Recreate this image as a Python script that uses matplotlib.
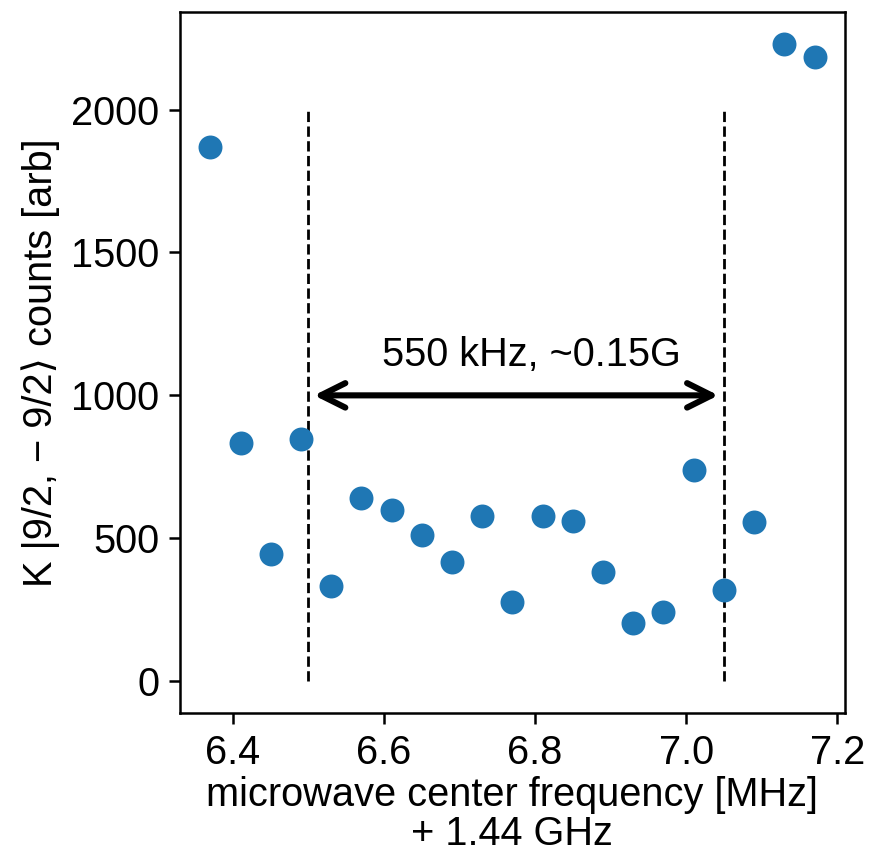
import matplotlib
matplotlib.use("Agg")
import matplotlib.pyplot as plt

plt.rcParams["font.family"] = ["Liberation Sans", "DejaVu Sans"]
plt.rcParams["font.size"] = 14.3

freq = [6.37, 6.41, 6.45, 6.49, 6.53, 6.57, 6.61, 6.65, 6.69, 6.73, 6.77,
        6.81, 6.85, 6.89, 6.93, 6.97, 7.01, 7.05, 7.09, 7.13, 7.17]
counts = [1870, 835, 445, 848, 333, 640, 598, 512, 417, 577, 276,
          578, 560, 382, 203, 242, 738, 318, 558, 2230, 2185]

lo, hi = 6.5, 7.05

fig = plt.figure(figsize=(4.35, 4.295), dpi=200)
ax = fig.add_axes([0.207, 0.170, 0.764, 0.816])

ax.scatter(freq, counts, s=58, color="#1f77b4", zorder=3)
ax.vlines([lo, hi], 0, 2000, colors="k", linestyles="--", lw=1.0)
ax.annotate("", xy=(lo, 1000), xytext=(hi, 1000),
            arrowprops=dict(arrowstyle="<->", lw=2.2, color="k",
                            mutation_scale=22))
ax.text(6.795, 1140, "550 kHz, ~0.15G", ha="center", va="center")

ax.set_xticks([6.4, 6.6, 6.8, 7.0, 7.2])
ax.set_yticks([0, 500, 1000, 1500, 2000])
ax.set_xlabel("microwave center frequency [MHz]\n+ 1.44 GHz",
              linespacing=1.05, labelpad=1.5)
ax.set_ylabel("K |9/2, \u2212 9/2\u27e9 counts [arb]")
for s in ax.spines.values():
    s.set_linewidth(0.9)
ax.tick_params(width=0.9, length=4)

fig.savefig("out.png", dpi=200)
